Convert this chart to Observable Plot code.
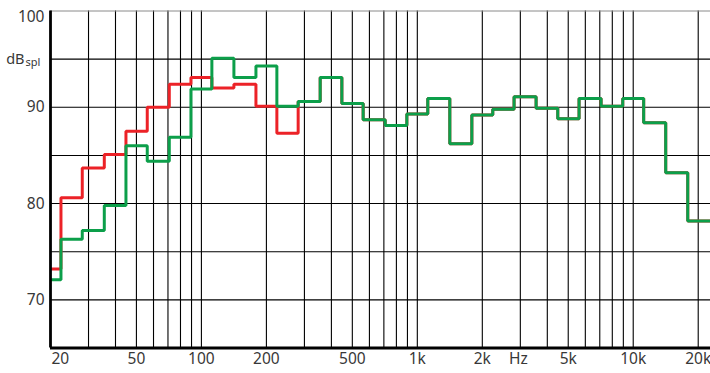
<!DOCTYPE html>
<html>
<head>
<meta charset="utf-8">
<script src="https://cdn.jsdelivr.net/npm/d3@7"></script>
<script src="https://cdn.jsdelivr.net/npm/@observablehq/plot@0.6"></script>
<style>
  html, body { margin: 0; padding: 0; background: #fff; }
  #chart svg { display: block; }
</style>
</head>
<body>
<div id="chart"></div>
<script>
// 1/3-octave band centre frequencies (Hz)
const bands = [20, 25, 31.5, 40, 50, 63, 80, 100, 125, 160, 200, 250, 315, 400, 500, 630, 800,
  1000, 1250, 1600, 2000, 2500, 3150, 4000, 5000, 6300, 8000, 10000, 12500, 16000, 20000];
// levels (dB SPL)
const redLevels = [73.2, 80.6, 83.7, 85.1, 87.5, 90.0, 92.4, 93.1, 92.0, 92.4, 90.1, 87.3, 90.6, 93.1, 90.4,
  88.7, 88.1, 89.3, 90.9, 86.2, 89.2, 89.8, 91.1, 89.9, 88.8, 90.9, 90.1, 90.9, 88.4, 83.2, 78.2];
const greenLevels = [72.1, 76.3, 77.2, 79.8, 86.0, 84.4, 86.9, 91.9, 95.1, 93.1, 94.3, 90.1, 90.6, 93.1, 90.4,
  88.7, 88.1, 89.3, 90.9, 86.2, 89.2, 89.8, 91.1, 89.9, 88.8, 90.9, 90.1, 90.9, 88.4, 83.2, 78.2];

// axis
const xDomain = [20, 22800];
const yDomain = [65, 100];
const xGrid = [30, 40, 50, 60, 70, 80, 90, 100, 200, 300, 400, 500, 600, 700, 800, 900,
  1000, 2000, 3000, 4000, 5000, 6000, 7000, 8000, 9000, 10000, 20000];
const yGrid = [70, 75, 80, 85, 90, 95];
const xTickValues = [50, 100, 200, 500, 1000, 2000, 5000, 10000, 20000];
const xTickLabels = ["50", "100", "200", "500", "1k", "2k", "5k", "10k", "20k"];
const xFirstTick = 20, xFirstLabel = "20";
const xUnitAt = 3000, xUnitLabel = "Hz";
const yTickValues = [90, 80, 70];
const yTopTick = 100;
const yUnitAt = 95;

const red = "#ec2227";
const green = "#0c9f4a";
const font = "'Noto Sans', 'Open Sans', sans-serif";
const textColor = "#383838";
const fs = 15.5;

function steps(levels) {
  const n = bands.length, pts = [];
  for (let i = 0; i < n; i++) {
    const lo = i === 0 ? bands[0] / Math.sqrt(bands[1] / bands[0]) : Math.sqrt(bands[i - 1] * bands[i]);
    const hi = i === n - 1 ? xDomain[1] : Math.sqrt(bands[i] * bands[i + 1]);
    pts.push({f: lo, v: levels[i]}, {f: hi, v: levels[i]});
  }
  return pts;
}

const chart = Plot.plot({
  width: 710,
  height: 373,
  marginTop: 10.5,
  marginBottom: 25.5,
  marginLeft: 50,
  marginRight: 0,
  style: {fontFamily: font, fontSize: fs + "px", color: textColor, background: "#fff", overflow: "visible"},
  x: {type: "log", domain: xDomain, axis: null},
  y: {domain: yDomain, axis: null},
  marks: [
    Plot.ruleX(xGrid, {x: d => d, stroke: "#000", strokeWidth: 1.1}),
    Plot.ruleY(yGrid, {y: d => d, stroke: "#000", strokeWidth: 1.1}),
    Plot.ruleY([yDomain[1]], {y: d => d, stroke: "#8a8a8a", strokeWidth: 1}),
    Plot.line(steps(redLevels), {x: "f", y: "v", stroke: red, strokeWidth: 3, strokeLinejoin: "miter", clip: true}),
    Plot.line(steps(greenLevels), {x: "f", y: "v", stroke: green, strokeWidth: 3, strokeLinejoin: "miter", clip: true}),
    Plot.ruleX([xDomain[0]], {x: d => d, stroke: "#000", strokeWidth: 2.8}),
    Plot.ruleY([yDomain[0]], {y: d => d, stroke: "#000", strokeWidth: 2.8}),
    // x tick labels
    Plot.text(xTickValues, {x: d => d, text: (d, i) => xTickLabels[i], frameAnchor: "bottom", dy: 16, fill: textColor, fontSize: fs}),
    Plot.text([xFirstTick], {x: d => d, text: () => xFirstLabel, frameAnchor: "bottom", dy: 16, dx: 1, textAnchor: "start", fill: textColor, fontSize: fs}),
    Plot.text([xUnitAt], {x: d => d, text: () => xUnitLabel, frameAnchor: "bottom", dy: 16, dx: -2, fill: textColor, fontSize: fs}),
    // y tick labels
    Plot.text(yTickValues, {y: d => d, text: d => String(d), frameAnchor: "left", dx: -6, textAnchor: "end", fill: textColor, fontSize: fs}),
    Plot.text([yTopTick], {y: d => d, text: d => String(d), frameAnchor: "left", dx: -6, dy: 6, textAnchor: "end", fill: textColor, fontSize: fs}),
    Plot.text([yUnitAt], {y: d => d, text: () => "dB", frameAnchor: "left", dx: -26, textAnchor: "end", fill: textColor, fontSize: 14.5}),
    Plot.text([yUnitAt], {y: d => d, text: () => "spl", frameAnchor: "left", dx: -25, dy: 3, textAnchor: "start", fill: textColor, fontSize: 11})
  ]
});
document.getElementById("chart").appendChild(chart);
</script>
</body>
</html>
